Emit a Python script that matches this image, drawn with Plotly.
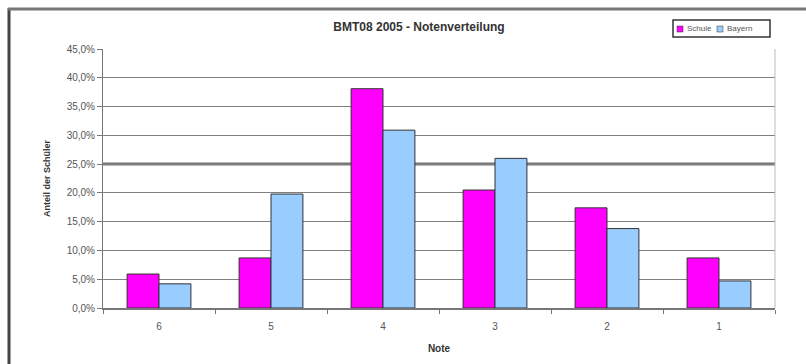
import plotly.graph_objects as go

noten = ["6", "5", "4", "3", "2", "1"]
schule = [5.9, 8.7, 38.1, 20.5, 17.4, 8.7]
bayern = [4.2, 19.8, 30.9, 26.0, 13.8, 4.7]
series_names = ["Schule", "Bayern"]
series_colors = ["#FF00FF", "#99CCFF"]
y_ticks = [0, 5, 10, 15, 20, 25, 30, 35, 40, 45]
y_ticktext = [f"{v:.1f}%".replace(".", ",") for v in y_ticks]
ref_line = 25

fig = go.Figure()
for name, vals, col in zip(series_names, [schule, bayern], series_colors):
    fig.add_trace(go.Bar(name=name, x=noten, y=vals,
                         marker=dict(color=col, line=dict(color="#333333", width=1))))

L, R, T, B = 103, 31, 49, 56
W, H = 806, 364
pw, ph = W - L - R, H - T - B

def px(x):
    return (x - L) / pw

def py(y):
    return (H - B - y) / ph

fig.update_layout(
    width=W, height=H,
    margin=dict(l=L, r=R, t=T, b=B),
    paper_bgcolor="white", plot_bgcolor="white",
    font=dict(family="Liberation Sans, Arial, sans-serif", color="#555555", size=10),
    barmode="group", bargap=0.43, bargroupgap=0,
    title=dict(text="<b>BMT08 2005 - Notenverteilung</b>", x=419 / W, xanchor="center",
               y=1 - 27 / H, yanchor="middle",
               font=dict(size=12, color="#333333")),
    showlegend=False,
)

fig.update_xaxes(
    type="category", showgrid=False, showline=True, linecolor="#777777", linewidth=2,
    ticks="outside", tickson="boundaries", ticklen=4, tickcolor="#777777",
    ticklabelstandoff=8,
    tickfont=dict(size=10, color="#555555"),
    title=dict(text="<b>Note</b>", font=dict(size=10, color="#333333"), standoff=14),
)
fig.update_yaxes(
    range=[0, 45], tickvals=y_ticks, ticktext=y_ticktext,
    showgrid=True, gridcolor="#808080", gridwidth=1,
    showline=True, linecolor="#777777", linewidth=1,
    ticks="outside", ticklen=5, tickcolor="#777777",
    tickfont=dict(size=10, color="#555555"),
    title=dict(text="<b>Anteil der Schüler</b>", font=dict(size=9, color="#333333"), standoff=14),
    zeroline=False,
)

# thicker reference line at 25%
fig.add_shape(type="line", xref="paper", yref="y", x0=0, x1=1, y0=ref_line, y1=ref_line,
              line=dict(color="#777777", width=3), layer="below")
# right edge of plot area
fig.add_shape(type="line", xref="paper", yref="paper", x0=1, x1=1, y0=0, y1=1,
              line=dict(color="#BBBBBB", width=1))
# chart frame (left and top)
fig.add_shape(type="line", xref="paper", yref="paper", x0=px(9), x1=px(9), y0=py(H), y1=py(8),
              line=dict(color="#444444", width=3))
fig.add_shape(type="line", xref="paper", yref="paper", x0=px(8), x1=px(W), y0=py(9), y1=py(9),
              line=dict(color="#777777", width=3))

# compact legend box (as in the original)
fig.add_shape(type="rect", xref="paper", yref="paper",
              x0=px(673), x1=px(770), y0=py(37), y1=py(20),
              line=dict(color="#333333", width=1.5), fillcolor="white")
leg_x = [677, 717]
for lx, name, col in zip(leg_x, series_names, series_colors):
    fig.add_shape(type="rect", xref="paper", yref="paper",
                  x0=px(lx), x1=px(lx + 6), y0=py(32), y1=py(26),
                  line=dict(color="#333333", width=0.5), fillcolor=col)
    fig.add_annotation(xref="paper", yref="paper", x=px(lx + 8), y=py(29),
                       xanchor="left", yanchor="middle", showarrow=False,
                       text=name, font=dict(size=8, color="#555555"))

fig.write_html("out.html", config={"displayModeBar": False},
               post_script="document.body.style.margin='0';")
